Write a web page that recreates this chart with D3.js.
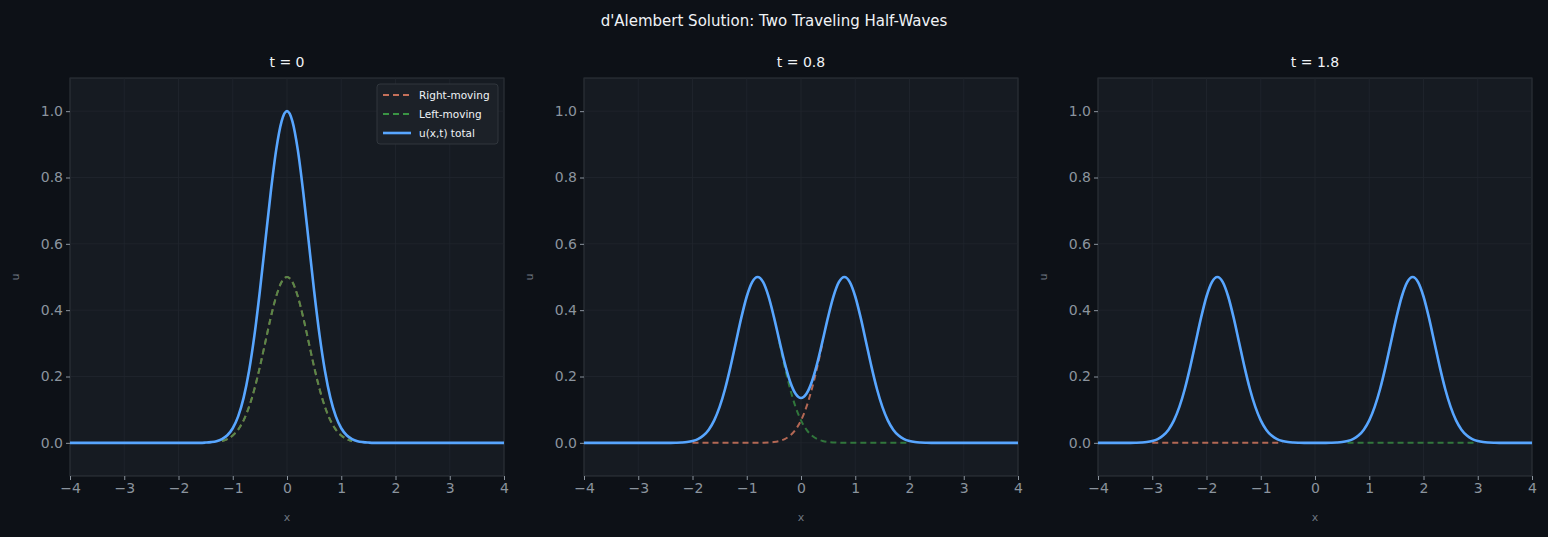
<!DOCTYPE html>
<html><head><meta charset="utf-8">
<script src="https://cdn.jsdelivr.net/npm/d3@7"></script>
<style>body{margin:0;background:#0d1117;}svg{display:block;font-family:"DejaVu Sans",sans-serif;}</style>
</head><body><div id="chart"></div>
<script>
var width = 1548, height = 537;

// half-wave profile: value at |distance from centre| (step 0.1)
var pulseOffsets = [0,0.1,0.2,0.3,0.4,0.5,0.6,0.7,0.8,0.9,1.0,1.1,1.2,1.3,1.4,1.5];
var pulseValues = [0.5,0.4846,0.4412,0.3774,0.3033,0.2289,0.1623,0.1082,0.0677,0.0398,0.0220,0.0114,0.0056,0.0025,0.0011,0.0004];
var times = [0, 0.8, 1.8];
var titles = ["t = 0", "t = 0.8", "t = 1.8"];
var xTicks = [-4,-3,-2,-1,0,1,2,3,4];
var yTicks = [0,0.2,0.4,0.6,0.8,1.0];
var panelLeft = [70, 584, 1098];
var panelW = 434, plotTop = 78, plotBottom = 476;

var colRight = "#c4705a", colLeft = "#3a9444", colTotal = "#58a6ff";

function pulse(d) {
  var i = Math.round(Math.abs(d) * 10);
  return i < pulseValues.length ? pulseValues[i] : 0;
}
var xs = d3.range(-40, 41).map(function(i) { return i / 10; });
var win = d3.range(-12, 13).map(function(i) { return i / 10; });

var svg = d3.select("#chart").append("svg").attr("width", width).attr("height", height);
svg.append("rect").attr("width", width).attr("height", height).attr("fill", "#0d1117");
svg.append("text").attr("x", width / 2).attr("y", 26).attr("text-anchor", "middle")
  .attr("fill", "#f0f3f6").attr("font-size", 15).text("d'Alembert Solution: Two Traveling Half-Waves");

times.forEach(function(t, p) {
  var x = d3.scaleLinear().domain([-4, 4]).range([panelLeft[p], panelLeft[p] + panelW]);
  var y = d3.scaleLinear().domain([-0.1, 1.1]).range([plotBottom, plotTop]);
  var g = svg.append("g");
  g.append("rect").attr("x", x(-4)).attr("y", plotTop).attr("width", panelW).attr("height", plotBottom - plotTop)
    .attr("fill", "#161b22").attr("stroke", "#30363d");
  xTicks.forEach(function(v) {
    g.append("line").attr("x1", x(v)).attr("x2", x(v)).attr("y1", plotTop).attr("y2", plotBottom).attr("stroke", "#21262d").attr("stroke-width", 0.8);
  });
  yTicks.forEach(function(v) {
    g.append("line").attr("x1", x(-4)).attr("x2", x(4)).attr("y1", y(v)).attr("y2", y(v)).attr("stroke", "#21262d").attr("stroke-width", 0.8);
  });
  var xa = g.append("g").attr("transform", "translate(0," + plotBottom + ")")
    .call(d3.axisBottom(x).tickValues(xTicks).tickFormat(function(d){return String(d).replace("-","\u2212");}).tickSize(4));
  var ya = g.append("g").attr("transform", "translate(" + x(-4) + ",0)")
    .call(d3.axisLeft(y).tickValues(yTicks).tickFormat(d3.format(".1f")).tickSize(4));
  [xa, ya].forEach(function(a) {
    a.select(".domain").remove();
    a.selectAll("line").attr("stroke", "#8b949e");
    a.selectAll("text").attr("fill", "#8b949e").attr("font-size", 14).attr("font-family", "DejaVu Sans");
  });
  g.append("text").attr("x", x(0)).attr("y", 521).attr("text-anchor", "middle").attr("fill", "#6e7681").attr("font-size", 11).text("x");
  g.append("text").attr("transform", "translate(" + (x(-4) - 51) + "," + y(0.5) + ")rotate(-90)")
    .attr("text-anchor", "middle").attr("fill", "#6e7681").attr("font-size", 11).text("u");
  g.append("text").attr("x", x(0)).attr("y", 67).attr("text-anchor", "middle").attr("fill", "#f0f3f6").attr("font-size", 14).text(titles[p]);

  var line = d3.line().x(function(d){return x(d[0]);}).y(function(d){return y(d[1]);}).curve(d3.curveMonotoneX);
  var right = win.map(function(w){ var xv = +(w - t).toFixed(1); return [xv, pulse(xv - t)]; });
  var left = win.map(function(w){ var xv = +(w + t).toFixed(1); return [xv, pulse(xv + t)]; });
  var total = xs.map(function(xv){ return [xv, pulse(xv - t) + pulse(xv + t)]; });
  g.append("path").attr("d", line(right)).attr("fill", "none").attr("stroke", colRight).attr("stroke-width", 2).attr("stroke-dasharray", "6,4").attr("opacity", 0.9);
  g.append("path").attr("d", line(left)).attr("fill", "none").attr("stroke", colLeft).attr("stroke-width", 2).attr("stroke-dasharray", "6,4").attr("opacity", 0.75);
  g.append("path").attr("d", line(total)).attr("fill", "none").attr("stroke", colTotal).attr("stroke-width", 2.6);

  if (p === 0) {
    var lg = g.append("g").attr("transform", "translate(377,84)");
    lg.append("rect").attr("width", 121).attr("height", 60).attr("rx", 3).attr("fill", "#1c2128").attr("stroke", "#30363d");
    [["Right-moving", colRight, "6,4", 2], ["Left-moving", colLeft, "6,4", 2], ["u(x,t) total", colTotal, null, 2.6]].forEach(function(e, i) {
      var yy = 11 + i * 19;
      lg.append("line").attr("x1", 6).attr("x2", 34).attr("y1", yy).attr("y2", yy).attr("stroke", e[1]).attr("stroke-width", e[3]).attr("stroke-dasharray", e[2]);
      lg.append("text").attr("x", 42).attr("y", yy + 4).attr("fill", "#f0f3f6").attr("font-size", 10.5).text(e[0]);
    });
  }
});
</script></body></html>
